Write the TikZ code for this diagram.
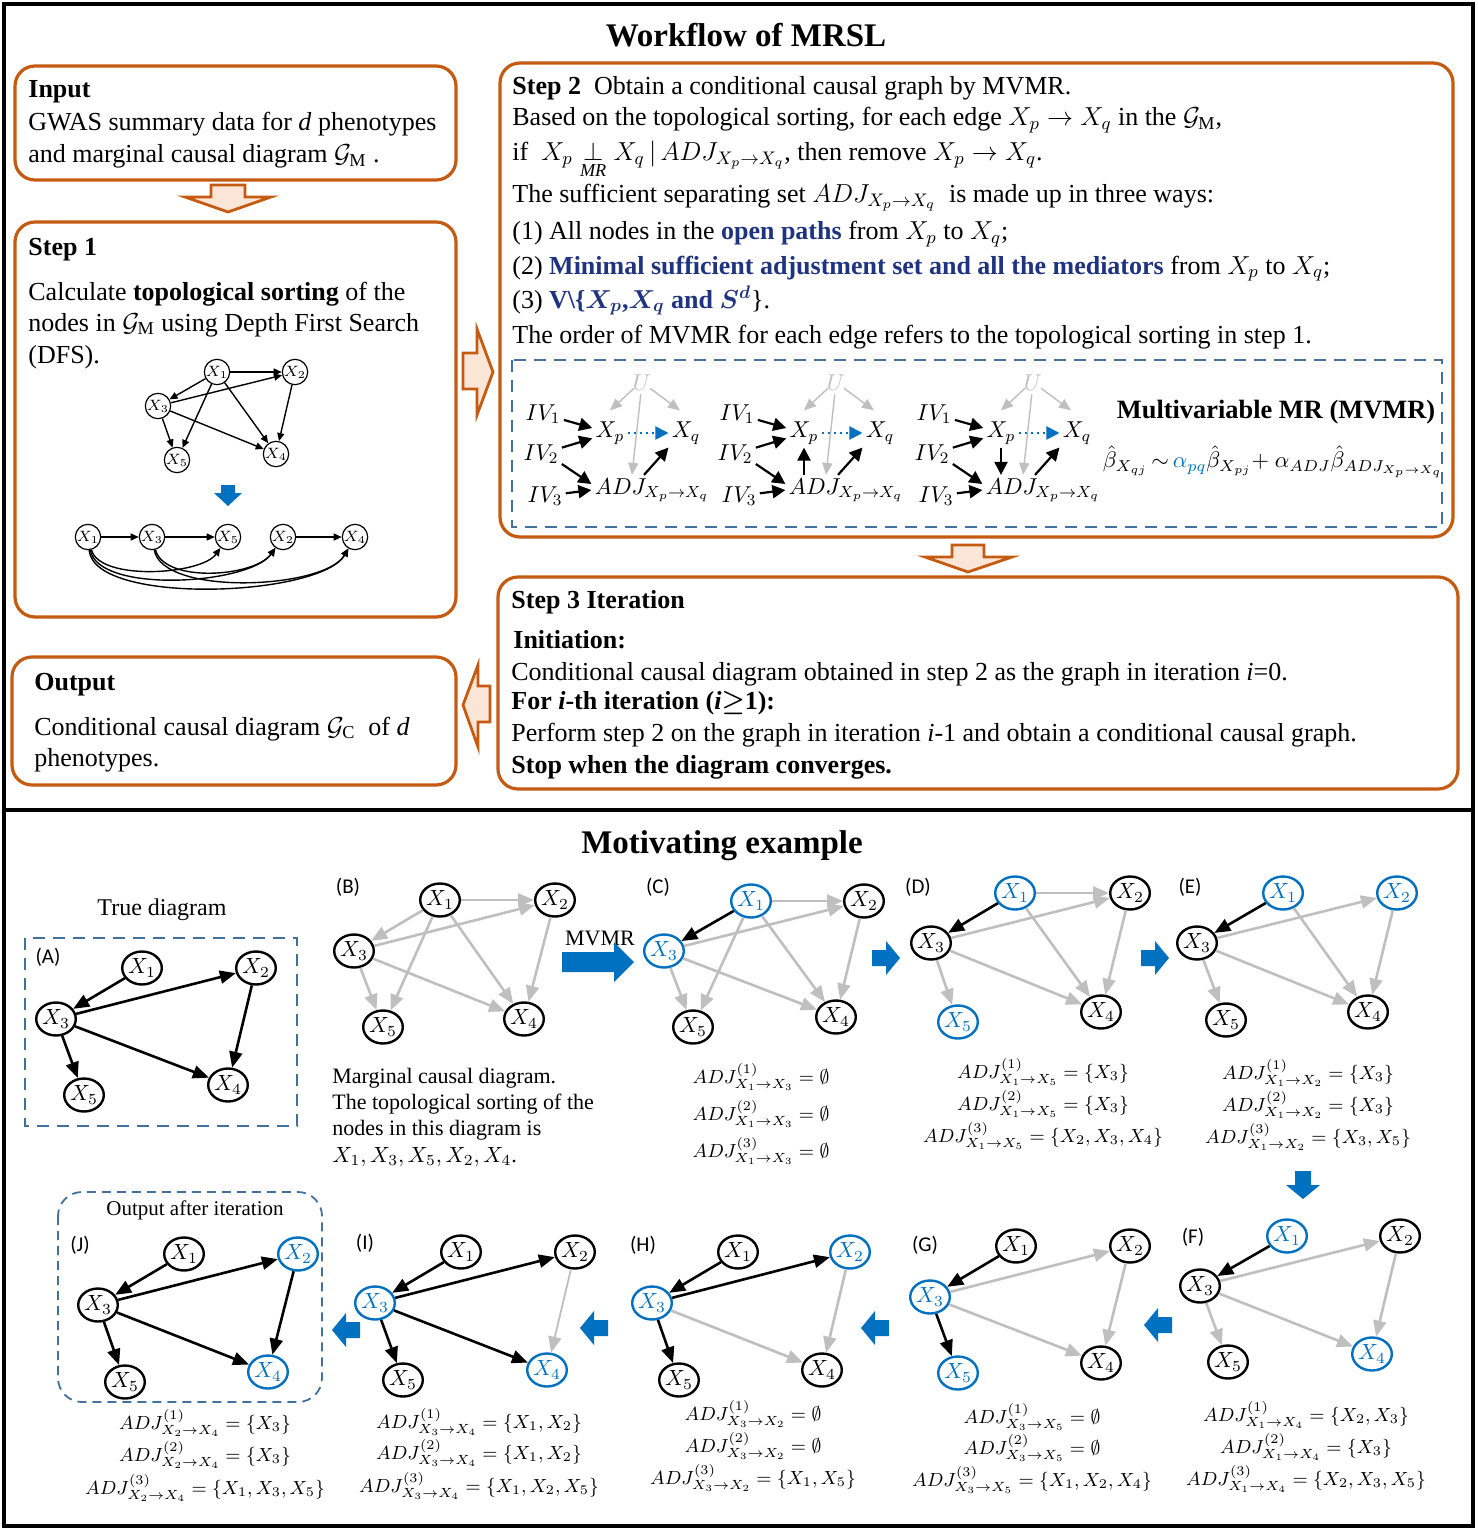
\RequirePackage{fix-cm}
\documentclass[tikz,border=0pt]{standalone}
\usepackage{amsmath}
\usepackage{fontspec}
\setmainfont{Liberation Serif}
\newfontfamily\labfont{Carlito}
\usetikzlibrary{arrows.meta,shapes.geometric,calc}
\definecolor{corange}{HTML}{C55A11}
\definecolor{cpeach}{HTML}{FBE5D6}
\definecolor{cblue}{HTML}{0070C0}
\definecolor{cdash}{HTML}{41719C}
\definecolor{cgray}{HTML}{BFBFBF}
\definecolor{cnavy}{HTML}{1F3480}
\tikzset{
 obox/.style={draw=corange, line width=1.6pt, rounded corners=10pt},
 oarrow/.style={draw=corange, fill=cpeach, line width=1.4pt, line join=miter},
 txt/.style={anchor=base west, inner sep=0pt, font=\fontsize{13}{15}\selectfont},
 ltxt/.style={anchor=base west, inner sep=0pt, font=\fontsize{13}{15}\selectfont},
 ttl/.style={inner sep=0pt, font=\fontsize{16.5}{18}\selectfont\bfseries},
 gn/.style={ellipse, draw=black, line width=1.2pt, minimum width=18.5pt, minimum height=16.5pt, inner sep=0pt, font=\fontsize{11}{11}\selectfont},
 bn/.style={gn, draw=cblue, text=cblue},
 ke/.style={draw=black, line width=1.3pt, -{Triangle[length=8pt,width=6.5pt]}},
 ge/.style={draw=cgray, line width=1.3pt, -{Triangle[length=8pt,width=6.5pt]}},
 sn/.style={circle, draw=black, line width=0.6pt, minimum size=12.5pt, inner sep=0pt, font=\fontsize{7.5}{8}\selectfont},
 se/.style={draw=black, line width=0.7pt, -{Triangle[length=4pt,width=3.5pt]}},
 plab/.style={inner sep=0pt, font=\labfont\fontsize{10.5}{11}\selectfont},
 fml/.style={anchor=base, inner sep=0pt, font=\fontsize{9.5}{11}\selectfont},
 mt/.style={inner sep=1.5pt, font=\fontsize{11.5}{12}\selectfont},
 me/.style={draw=black, line width=1.1pt, -{Triangle[length=6.5pt,width=6.5pt]}},
 ue/.style={draw=cgray, line width=0.7pt, -{Triangle[length=6pt,width=5pt]}},
 de/.style={draw=cblue, line width=1pt, dotted, -{Triangle[length=6.5pt,width=6.5pt]}},
 stxt/.style={inner sep=0pt, font=\fontsize{11}{13}\selectfont},
 blk/.pic={\fill[cblue] (-14,-8) -- (0,-8) -- (0,-17) -- (14,0) -- (0,17) -- (0,8) -- (-14,8) -- cycle;}
}
\begin{document}
\begin{tikzpicture}[x=0.5pt,y=-0.5pt]
\useasboundingbox (0,0) rectangle (1477,1530);
\fill[white] (0,0) rectangle (1477,1530);
% frames
\draw[line width=2pt] (4,4) rectangle (1473,1526);
\draw[line width=2pt] (4,810) -- (1473,810);

%================ WORKFLOW =================
\node[ttl] (title1) at (746,35) {Workflow of MRSL};

% Input
\draw[obox] (15,66) rectangle (456,180);
\node[ltxt] (in0) at (28,98) {\textbf{Input}};
\node[ltxt] (in1) at (28,131) {GWAS summary data for \textit{d} phenotypes};
\node[ltxt] (in2) at (28,163) {and marginal causal diagram $\mathcal{G}_{\mathrm{M}}$ .};

\draw[oarrow] (211,185) -- (245,185) -- (245,197) -- (271,197) -- (228,212) -- (185,197) -- (211,197) -- cycle;

% Step 1
\draw[obox] (15,222) rectangle (456,617);
\node[ltxt] (st1a) at (28,256) {\textbf{Step 1}};
\node[ltxt] (st1b) at (28,300) {Calculate \textbf{topological sorting} of the};
\node[ltxt] (st1c) at (28,331) {nodes in $\mathcal{G}_{\mathrm{M}}$ using Depth First Search};
\node[ltxt] (st1d) at (28,363) {(DFS).};

\node[sn] (s1) at (217,372) {$X_1$};
\node[sn] (s2) at (295,372) {$X_2$};
\node[sn] (s3) at (158,406) {$X_3$};
\node[sn] (s4) at (276,454) {$X_4$};
\node[sn] (s5) at (177,460) {$X_5$};
\draw[se] (s1) -- (s2);
\draw[se] (s1) -- (s3);
\draw[se] (s1) -- (s5);
\draw[se] (s1) -- (s4);
\draw[se] (s3) -- (s2);
\draw[se] (s3) -- (s5);
\draw[se] (s3) -- (s4);
\draw[se] (s2) -- (s4);

\fill[cblue] (221,485) -- (235,485) -- (235,493) -- (242,493) -- (228,506) -- (214,493) -- (221,493) -- cycle;

\node[sn] (r1) at (88,537) {$X_1$};
\node[sn] (r3) at (152,537) {$X_3$};
\node[sn] (r5) at (228,537) {$X_5$};
\node[sn] (r2) at (283,537) {$X_2$};
\node[sn] (r4) at (355,537) {$X_4$};
\draw[se] (r1) -- (r3);
\draw[se] (r3) -- (r5);
\draw[se] (r2) -- (r4);
\draw[se] (r1) to[out=-75,in=-125,looseness=0.65] (r5);
\draw[se] (r1) to[out=-80,in=-125,looseness=0.62] (r2);
\draw[se] (r1) to[out=-85,in=-120,looseness=0.55] (r4);
\draw[se] (r3) to[out=-75,in=-125,looseness=0.75] (r2);
\draw[se] (r3) to[out=-80,in=-120,looseness=0.62] (r4);

% arrows between boxes
\draw[oarrow] (463,353) -- (477,353) -- (477,329) -- (493,372) -- (477,415) -- (477,389) -- (463,389) -- cycle;
\draw[oarrow] (490,686) -- (478,686) -- (478,665) -- (463,705) -- (478,747) -- (478,722) -- (490,722) -- cycle;

% Output
\draw[obox] (12,657) rectangle (456,785);
\node[ltxt] (out0) at (34,690) {\textbf{Output}};
\node[ltxt] (out1) at (34,735) {Conditional causal diagram $\mathcal{G}_{\mathrm{C}}$\ \ of \textit{d}};
\node[ltxt] (out2) at (34,766) {phenotypes.};

% Step 2
\draw[obox] (500,63) rectangle (1453,537);
\node[txt] (s2a) at (512,95) {\textbf{Step 2}\ \ Obtain a conditional causal graph by MVMR.};
\node[txt] (s2b) at (512,126) {Based on the topological sorting, for each edge $X_p\rightarrow X_q$ in the $\mathcal{G}_{\mathrm{M}}$,};
\node[txt] (s2c) at (512,161) {if\ \ $X_p \underset{\mathit{MR}}{\perp} X_q\,|\,ADJ_{X_p\to X_q}$, then remove $X_p\rightarrow X_q$.};
\node[txt] (s2d) at (512,203) {The sufficient separating set $ADJ_{X_p\to X_q}$\ \ is made up in three ways:};
\node[txt] (s2e) at (512,240) {(1) All nodes in the {\bfseries\color{cnavy}open paths} from $X_p$ to $X_q$;};
\node[txt] (s2f) at (512,274) {(2) {\bfseries\color{cnavy}Minimal sufficient adjustment set and all the mediators} from $X_p$ to $X_q$;};
\node[txt] (s2g) at (512,308) {(3) {\bfseries\color{cnavy}V\textbackslash\{$\boldsymbol{X_p}$,$\boldsymbol{X_q}$ and $\boldsymbol{S^d}$}\}.};
\node[txt] (s2h) at (512,343) {The order of MVMR for each edge refers to the topological sorting in step 1.};

\draw[cdash, line width=1.2pt, dash pattern=on 6pt off 4pt] (512,360) rectangle (1442,527);

\foreach \k/\dx in {1/0,2/194,3/391}{
  \node[mt] (iva\k) at (543+\dx,414) {$IV_1$};
  \node[mt] (ivb\k) at (541+\dx,454) {$IV_2$};
  \node[mt] (ivc\k) at (545+\dx,496) {$IV_3$};
  \node[mt] (xp\k) at (610+\dx,433) {$X_p$};
  \node[mt] (xq\k) at (686+\dx,433) {$X_q$};
  \node[mt] (adj\k) at (652+\dx,490) {$ADJ_{X_p\to X_q}$};
  \node[mt] (u\k) at (642+\dx,383) {\color{cgray}$U$};
  \draw[me] (iva\k) -- (xp\k);
  \draw[me] (ivb\k) -- (xp\k);
  \draw[me] ([yshift=-5pt]ivb\k.east) -- ([yshift=3pt]adj\k.west);
  \draw[me] (ivc\k) -- (adj\k.west);
  \draw[me] ([xshift=-4pt]adj\k.north) -- (xq\k.south west);
  \draw[de] (xp\k) -- (xq\k);
  \draw[ue] ([xshift=-4pt,yshift=3pt]u\k.south) -- ([yshift=4pt]xp\k.north);
  \draw[ue] ([xshift=4pt,yshift=3pt]u\k.south) -- ([xshift=-3pt,yshift=4pt]xq\k.north);
  \draw[ue] (u\k) -- ([xshift=-10pt]adj\k.north);
}
\draw[me] (xp2.south |- adj2.north) -- (xp2.south);
\draw[me] (xp3.south) -- (xp3.south |- adj3.north);

\node[inner sep=0pt, font=\fontsize{13.2}{15}\selectfont\bfseries] (mvmrt) at (1276,412) {Multivariable MR (MVMR)};
\node[inner sep=0pt, font=\fontsize{11.3}{14}\selectfont] (mvmrf) at (1273,462) {$\hat\beta_{X_{qj}}\,{\sim}\,{\color{cblue}\alpha_{pq}}\hat\beta_{X_{pj}}{+}\ \alpha_{ADJ}\hat\beta_{ADJ_{X_p\to X_q}}$};

\draw[oarrow] (952,545) -- (984,545) -- (984,557) -- (1012,557) -- (968,572) -- (925,557) -- (952,557) -- cycle;

% Step 3
\draw[obox] (498,577) rectangle (1458,789);
\node[txt] (s3a) at (511,608) {\textbf{Step 3 Iteration}};
\node[txt] (s3b) at (513,648) {\textbf{Initiation:}};
\node[txt] (s3c) at (511,680) {Conditional causal diagram obtained in step 2 as the graph in iteration \textit{i}=0.};
\node[txt] (s3d) at (511,709) {\textbf{For \textit{i}-th iteration (\textit{i}$\boldsymbol{\geq}$1):}};
\node[txt] (s3e) at (511,741) {Perform step 2 on the graph in iteration \textit{i}-1 and obtain a conditional causal graph.};
\node[txt] (s3f) at (511,773) {\textbf{Stop when the diagram converges.}};

%================ MOTIVATING EXAMPLE =================
\node[ttl] (title2) at (722,846) {Motivating example};

% (A)
\node[stxt, font=\fontsize{12}{14}\selectfont] (truet) at (162,910) {True diagram};
\draw[cdash, line width=1.2pt, dash pattern=on 6pt off 4pt] (25,938) rectangle (297,1126);
\node[plab] (la) at (48,957) {(A)};
\node[gn] (a1) at (142,968) {$X_1$};
\node[gn] (a2) at (256,968) {$X_2$};
\node[gn] (a3) at (56,1019) {$X_3$};
\node[gn] (a4) at (228,1085) {$X_4$};
\node[gn] (a5) at (84,1095) {$X_5$};
\draw[ke] (a1) -- (a3);
\draw[ke] (a3) -- (a2);
\draw[ke] (a2) -- (a4);
\draw[ke] (a3) -- (a4);
\draw[ke] (a3) -- (a5);

% (B)
\node[plab] (lb) at (348,887) {(B)};
\node[gn] (b1) at (440,900) {$X_1$};
\node[gn] (b2) at (555,900) {$X_2$};
\node[gn] (b3) at (354,951) {$X_3$};
\node[gn] (b4) at (524,1019) {$X_4$};
\node[gn] (b5) at (383,1027) {$X_5$};
\draw[ge] (b1) -- (b3);
\draw[ge] (b1) -- (b2);
\draw[ge] (b3) -- (b2);
\draw[ge] (b1) -- (b5);
\draw[ge] (b1) -- (b4);
\draw[ge] (b3) -- (b5);
\draw[ge] (b3) -- (b4);
\draw[ge] (b2) -- (b4);
\node[stxt, anchor=base west] (bt1) at (332,1083) {Marginal causal diagram.};
\node[stxt, anchor=base west] (bt2) at (332,1109) {The topological sorting of the};
\node[stxt, anchor=base west] (bt3) at (332,1135) {nodes in this diagram is};
\node[stxt, anchor=base west] (bt4) at (332,1162) {$X_1, X_3, X_5, X_2, X_4$.};

% MVMR arrow
\node[stxt] (mvlab) at (600,938) {MVMR};
\fill[cblue] (562,952) -- (614,952) -- (614,942) -- (634,962) -- (614,982) -- (614,972) -- (562,972) -- cycle;

% (C)
\node[plab] (lc) at (658,887) {(C)};
\node[bn] (c1) at (751,901) {$X_1$};
\node[gn] (c2) at (864,901) {$X_2$};
\node[bn] (c3) at (664,951) {$X_3$};
\node[gn] (c4) at (836,1017) {$X_4$};
\node[gn] (c5) at (693,1027) {$X_5$};
\draw[ke] (c1) -- (c3);
\draw[ge] (c1) -- (c2);
\draw[ge] (c3) -- (c2);
\draw[ge] (c1) -- (c5);
\draw[ge] (c1) -- (c4);
\draw[ge] (c3) -- (c5);
\draw[ge] (c3) -- (c4);
\draw[ge] (c2) -- (c4);
\node[fml] (fc1) at (761,1083) {$ADJ^{(1)}_{X_1\to X_3} = \emptyset$};
\node[fml] (fc2) at (761,1120) {$ADJ^{(2)}_{X_1\to X_3} = \emptyset$};
\node[fml] (fc3) at (761,1157) {$ADJ^{(3)}_{X_1\to X_3} = \emptyset$};

\pic (pa1) at (886,958) {blk};

% (D)
\node[plab] (ld) at (918,887) {(D)};
\node[bn] (d1) at (1015,893) {$X_1$};
\node[gn] (d2) at (1130,893) {$X_2$};
\node[gn] (d3) at (931,943) {$X_3$};
\node[gn] (d4) at (1101,1012) {$X_4$};
\node[bn] (d5) at (958,1022) {$X_5$};
\draw[ke] (d1) -- (d3);
\draw[ge] (d1) -- (d2);
\draw[ge] (d3) -- (d2);
\draw[ge] (d1) -- (d4);
\draw[ge] (d2) -- (d4);
\draw[ge] (d3) -- (d5);
\draw[ge] (d3) -- (d4);
\node[fml] (fd1) at (1043,1078) {$ADJ^{(1)}_{X_1\to X_5} = \{X_3\}$};
\node[fml] (fd2) at (1043,1110) {$ADJ^{(2)}_{X_1\to X_5} = \{X_3\}$};
\node[fml] (fd3) at (1043,1142) {$ADJ^{(3)}_{X_1\to X_5} = \{X_2, X_3, X_4\}$};

\pic (pa2) at (1155,958) {blk};

% (E)
\node[plab] (le) at (1190,887) {(E)};
\node[bn] (e1) at (1283,893) {$X_1$};
\node[bn] (e2) at (1397,893) {$X_2$};
\node[gn] (e3) at (1197,943) {$X_3$};
\node[gn] (e4) at (1368,1012) {$X_4$};
\node[gn] (e5) at (1226,1020) {$X_5$};
\draw[ke] (e1) -- (e3);
\draw[ge] (e3) -- (e2);
\draw[ge] (e1) -- (e4);
\draw[ge] (e2) -- (e4);
\draw[ge] (e3) -- (e5);
\draw[ge] (e3) -- (e4);
\node[fml] (fe1) at (1308,1079) {$ADJ^{(1)}_{X_1\to X_2} = \{X_3\}$};
\node[fml] (fe2) at (1308,1111) {$ADJ^{(2)}_{X_1\to X_2} = \{X_3\}$};
\node[fml] (fe3) at (1308,1143) {$ADJ^{(3)}_{X_1\to X_2} = \{X_3, X_5\}$};

\pic[rotate=-90] (pa3) at (1303,1185) {blk};

% (F)
\node[plab] (lf) at (1193,1237) {(F)};
\node[bn] (f1) at (1287,1236) {$X_1$};
\node[gn] (f2) at (1400,1236) {$X_2$};
\node[gn] (f3) at (1200,1286) {$X_3$};
\node[bn] (f4) at (1372,1354) {$X_4$};
\node[gn] (f5) at (1228,1362) {$X_5$};
\draw[ke] (f1) -- (f3);
\draw[ge] (f3) -- (f2);
\draw[ge] (f2) -- (f4);
\draw[ge] (f3) -- (f5);
\draw[ge] (f3) -- (f4);
\node[fml] (ff1) at (1306,1421) {$ADJ^{(1)}_{X_1\to X_4} = \{X_2, X_3\}$};
\node[fml] (ff2) at (1306,1453) {$ADJ^{(2)}_{X_1\to X_4} = \{X_3\}$};
\node[fml] (ff3) at (1306,1485) {$ADJ^{(3)}_{X_1\to X_4} = \{X_2, X_3, X_5\}$};

\pic[rotate=180] (pa4) at (1158,1325) {blk};

% (G)
\node[plab] (lg) at (925,1245) {(G)};
\node[gn] (g1) at (1016,1246) {$X_1$};
\node[gn] (g2) at (1130,1246) {$X_2$};
\node[bn] (g3) at (930,1297) {$X_3$};
\node[gn] (g4) at (1101,1363) {$X_4$};
\node[bn] (g5) at (958,1373) {$X_5$};
\draw[ke] (g1) -- (g3);
\draw[ke] (g3) -- (g5);
\draw[ge] (g3) -- (g2);
\draw[ge] (g2) -- (g4);
\draw[ge] (g3) -- (g4);
\node[fml] (fg1) at (1032,1423) {$ADJ^{(1)}_{X_3\to X_5} = \emptyset$};
\node[fml] (fg2) at (1032,1454) {$ADJ^{(2)}_{X_3\to X_5} = \emptyset$};
\node[fml] (fg3) at (1032,1486) {$ADJ^{(3)}_{X_3\to X_5} = \{X_1, X_2, X_4\}$};

\pic[rotate=180] (pa5) at (875,1328) {blk};

% (H)
\node[plab] (lh) at (643,1245) {(H)};
\node[gn] (h1) at (738,1252) {$X_1$};
\node[bn] (h2) at (850,1252) {$X_2$};
\node[bn] (h3) at (652,1303) {$X_3$};
\node[gn] (h4) at (822,1370) {$X_4$};
\node[gn] (h5) at (679,1380) {$X_5$};
\draw[ke] (h1) -- (h3);
\draw[ke] (h3) -- (h2);
\draw[ke] (h3) -- (h5);
\draw[ge] (h2) -- (h4);
\draw[ge] (h3) -- (h4);
\node[fml] (fh1) at (753,1420) {$ADJ^{(1)}_{X_3\to X_2} = \emptyset$};
\node[fml] (fh2) at (753,1452) {$ADJ^{(2)}_{X_3\to X_2} = \emptyset$};
\node[fml] (fh3) at (753,1484) {$ADJ^{(3)}_{X_3\to X_2} = \{X_1, X_5\}$};

\pic[rotate=180] (pa6) at (594,1328) {blk};

% (I)
\node[plab] (li) at (365,1243) {(I)};
\node[gn] (i1) at (461,1252) {$X_1$};
\node[gn] (i2) at (575,1252) {$X_2$};
\node[bn] (i3) at (375,1303) {$X_3$};
\node[bn] (i4) at (547,1370) {$X_4$};
\node[gn] (i5) at (403,1380) {$X_5$};
\draw[ke] (i1) -- (i3);
\draw[ke] (i3) -- (i2);
\draw[ke] (i3) -- (i5);
\draw[ke] (i3) -- (i4);
\draw[ge, line width=0.9pt] (i2) -- (i4);
\node[fml] (fi1) at (479,1428) {$ADJ^{(1)}_{X_3\to X_4} = \{X_1, X_2\}$};
\node[fml] (fi2) at (479,1459) {$ADJ^{(2)}_{X_3\to X_4} = \{X_1, X_2\}$};
\node[fml] (fi3) at (479,1492) {$ADJ^{(3)}_{X_3\to X_4} = \{X_1, X_2, X_5\}$};

\pic[rotate=180] (pa7) at (346,1330) {blk};

% (J)
\draw[cdash, line width=0.9pt, dash pattern=on 4.5pt off 3pt, rounded corners=12pt] (58,1192) rectangle (322,1402);
\node[stxt, font=\fontsize{10.5}{12}\selectfont] (jt) at (195,1210) {Output after iteration};
\node[plab] (lj) at (80,1245) {(J)};
\node[gn] (j1) at (184,1254) {$X_1$};
\node[bn] (j2) at (298,1254) {$X_2$};
\node[gn] (j3) at (98,1305) {$X_3$};
\node[bn] (j4) at (268,1372) {$X_4$};
\node[gn] (j5) at (125,1382) {$X_5$};
\draw[ke] (j1) -- (j3);
\draw[ke] (j3) -- (j2);
\draw[ke] (j2) -- (j4);
\draw[ke] (j3) -- (j4);
\draw[ke] (j3) -- (j5);
\node[fml] (fj1) at (205,1429) {$ADJ^{(1)}_{X_2\to X_4} = \{X_3\}$};
\node[fml] (fj2) at (205,1461) {$ADJ^{(2)}_{X_2\to X_4} = \{X_3\}$};
\node[fml] (fj3) at (205,1494) {$ADJ^{(3)}_{X_2\to X_4} = \{X_1, X_3, X_5\}$};
\end{tikzpicture}
\end{document}
